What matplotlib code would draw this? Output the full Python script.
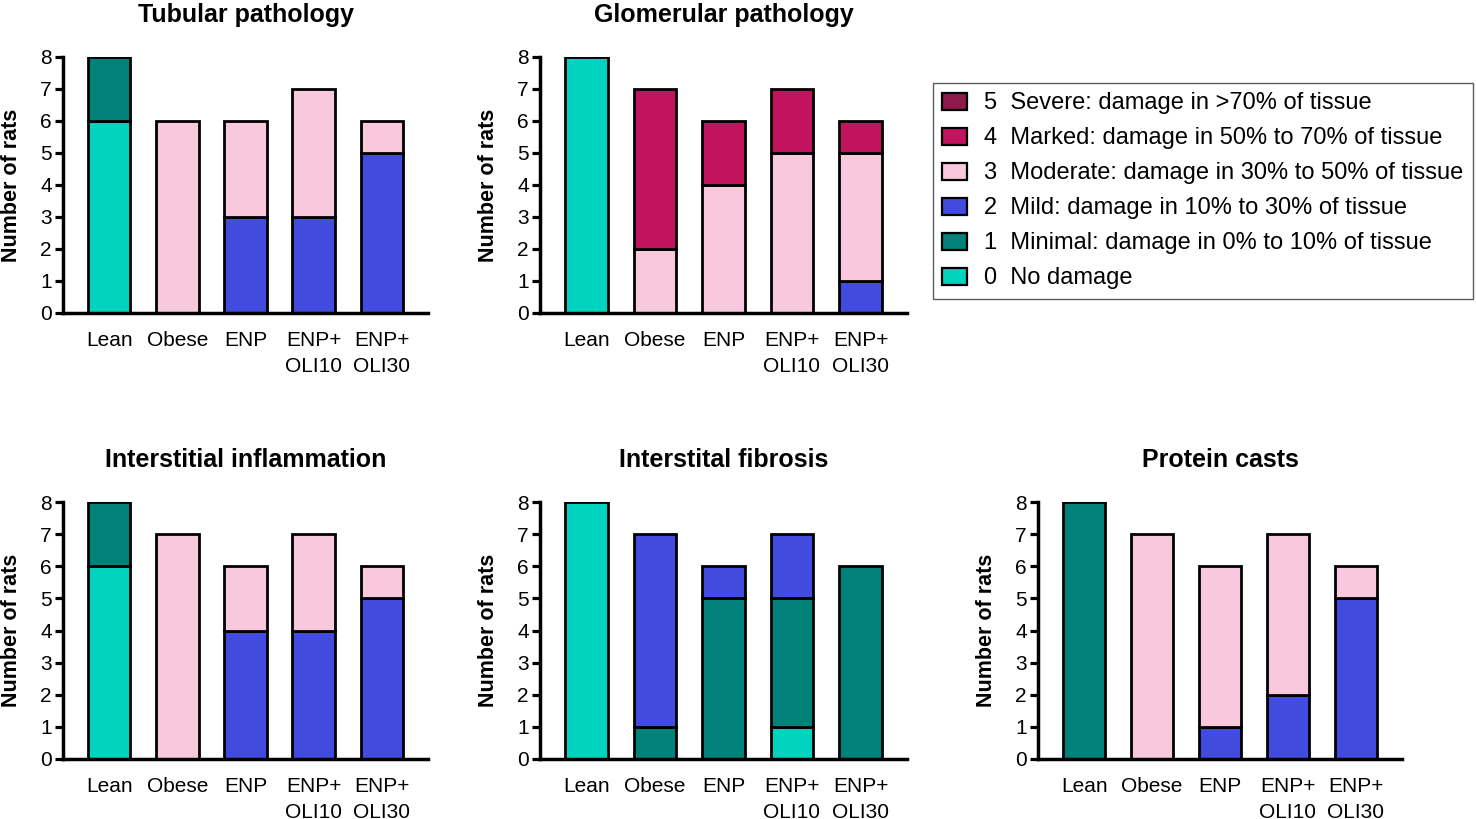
import matplotlib
matplotlib.use("Agg")
import matplotlib.pyplot as plt
from matplotlib.patches import Patch

plt.rcParams['font.family'] = ['Liberation Sans', 'DejaVu Sans']

groups = ["Lean", "Obese", "ENP", "ENP+\nOLI10", "ENP+\nOLI30"]
scores = [0, 1, 2, 3, 4, 5]
score_labels = [
    "No damage",
    "Minimal: damage in 0% to 10% of tissue",
    "Mild: damage in 10% to 30% of tissue",
    "Moderate: damage in 30% to 50% of tissue",
    "Marked: damage in 50% to 70% of tissue",
    "Severe: damage in >70% of tissue",
]
score_colors = ["#00D4BF", "#00817A", "#414BDE", "#F8C9DD", "#C1135E", "#8C1A4B"]

# rows: score 0..5, columns: groups
tubular = [
    [6, 0, 0, 0, 0],
    [2, 0, 0, 0, 0],
    [0, 0, 3, 3, 5],
    [0, 6, 3, 4, 1],
    [0, 0, 0, 0, 0],
    [0, 0, 0, 0, 0],
]
glomerular = [
    [8, 0, 0, 0, 0],
    [0, 0, 0, 0, 0],
    [0, 0, 0, 0, 1],
    [0, 2, 4, 5, 4],
    [0, 5, 2, 2, 1],
    [0, 0, 0, 0, 0],
]
inflammation = [
    [6, 0, 0, 0, 0],
    [2, 0, 0, 0, 0],
    [0, 0, 4, 4, 5],
    [0, 7, 2, 3, 1],
    [0, 0, 0, 0, 0],
    [0, 0, 0, 0, 0],
]
fibrosis = [
    [8, 0, 0, 1, 0],
    [0, 1, 5, 4, 6],
    [0, 6, 1, 2, 0],
    [0, 0, 0, 0, 0],
    [0, 0, 0, 0, 0],
    [0, 0, 0, 0, 0],
]
casts = [
    [0, 0, 0, 0, 0],
    [8, 0, 0, 0, 0],
    [0, 0, 1, 2, 5],
    [0, 7, 5, 5, 1],
    [0, 0, 0, 0, 0],
    [0, 0, 0, 0, 0],
]

panels = [
    ("Tubular pathology", tubular, (63, 313, 365, 256)),
    ("Glomerular pathology", glomerular, (540, 313, 367, 256)),
    ("Interstitial inflammation", inflammation, (63, 759, 365, 257)),
    ("Interstital fibrosis", fibrosis, (540, 759, 367, 257)),
    ("Protein casts", casts, (1038, 759, 364, 257)),
]

W, H = 1476, 819
fig = plt.figure(figsize=(W / 100, H / 100), dpi=100)

for title, data, (lx, by, w, h) in panels:
    ax = fig.add_axes([lx / W, (H - by) / H, w / W, h / H])
    x = list(range(len(groups)))
    bottoms = [0] * len(groups)
    for s, row in zip(scores, data):
        for i, v in enumerate(row):
            if v > 0:
                ax.bar(i, v, bottom=bottoms[i], width=0.62,
                       color=score_colors[s], edgecolor="black",
                       linewidth=2.0, zorder=2)
                bottoms[i] += v
    ax.set_xlim(-0.68, 4.68)
    ax.set_ylim(0, 8)
    ax.set_yticks(range(0, 9))
    ax.set_xticks(x)
    ax.set_xticklabels(groups, fontsize=15, linespacing=1.45)
    for sp in ["top", "right"]:
        ax.spines[sp].set_visible(False)
    for sp in ["left", "bottom"]:
        ax.spines[sp].set_linewidth(2.5)
    ax.tick_params(axis="y", length=6, width=2.3, labelsize=15, pad=2)
    ax.tick_params(axis="x", length=0, pad=13)
    ax.set_ylabel("Number of rats", fontsize=15.5, fontweight="bold", labelpad=13)
    ax.set_title(title, fontsize=18, fontweight="bold", pad=25)

handles = [Patch(facecolor=score_colors[s], edgecolor="black", linewidth=1.6)
           for s in reversed(scores)]
labels = [f"{s}  {score_labels[s]}" for s in reversed(scores)]
leg = fig.legend(handles, labels, loc="upper left",
                 bbox_to_anchor=(933 / W, (H - 83) / H),
                 fontsize=17, frameon=True, fancybox=False,
                 handlelength=1.06, handleheight=0.72, handletextpad=0.72,
                 labelspacing=0.55, borderpad=0.4, borderaxespad=0)
leg.get_frame().set_edgecolor("#333333")
leg.get_frame().set_linewidth(1.0)

fig.savefig("out.png", dpi=100)
